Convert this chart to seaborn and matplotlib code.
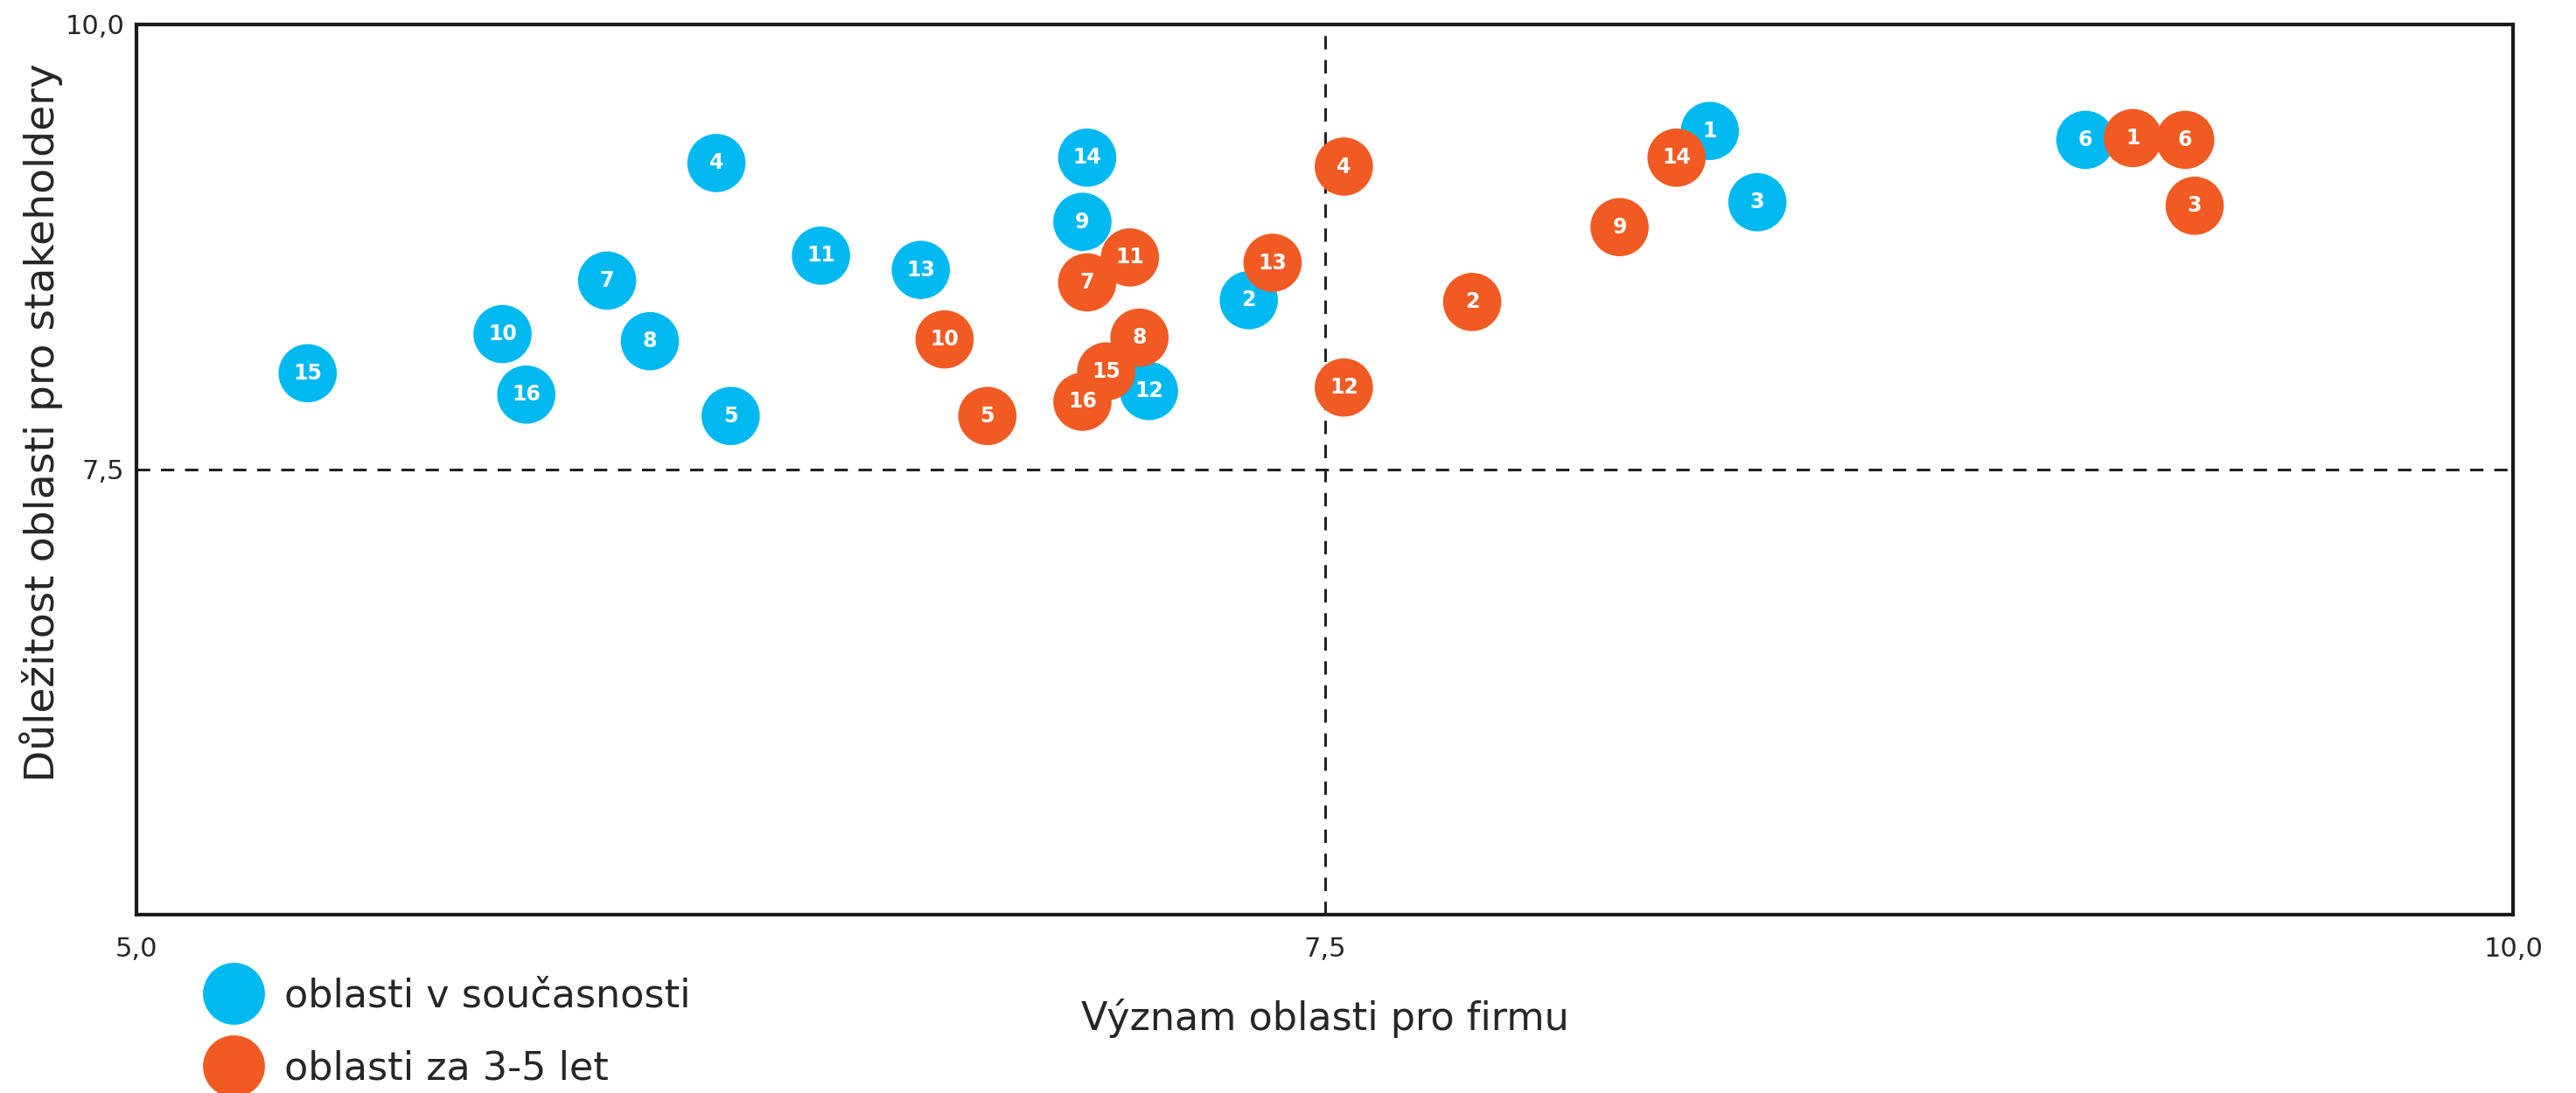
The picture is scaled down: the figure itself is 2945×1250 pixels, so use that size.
import matplotlib
matplotlib.use("Agg")
import matplotlib.pyplot as plt
from matplotlib.lines import Line2D
import pandas as pd
import seaborn as sns

# oblasti 1..16 - current state vs. 3-5 years
labels = [str(i) for i in range(1, 17)]
x_now = [8.31, 7.34, 8.41, 6.22, 6.25, 9.10, 5.99, 6.08, 6.99, 5.77, 6.44, 7.13, 6.65, 7.00, 5.36, 5.82]
y_now = [9.40, 8.45, 9.00, 9.22, 7.80, 9.35, 8.56, 8.22, 8.89, 8.26, 8.70, 7.94, 8.62, 9.25, 8.04, 7.92]
x_future = [9.20, 7.81, 9.33, 7.54, 6.79, 9.31, 7.00, 7.11, 8.12, 6.70, 7.09, 7.54, 7.39, 8.24, 7.04, 6.99]
y_future = [9.36, 8.44, 8.98, 9.20, 7.80, 9.35, 8.55, 8.24, 8.86, 8.23, 8.69, 7.96, 8.66, 9.25, 8.05, 7.88]

groups = ["oblasti v současnosti", "oblasti za 3-5 let"]
colors = ["#00B9F1", "#F15A22"]
x_ticks = [5.0, 7.5, 10.0]
y_ticks = [7.5, 10.0]

df = pd.DataFrame({
    "x": x_now + x_future,
    "y": y_now + y_future,
    "label": labels + labels,
    "group": [groups[0]] * len(x_now) + [groups[1]] * len(x_future),
})

sns.set_style("white")
fig = plt.figure(figsize=(29.45, 12.5), dpi=100)
ax = fig.add_axes([0.053, 0.163, 0.9226, 0.815])

sns.scatterplot(data=df, x="x", y="y", hue="group", palette=colors, s=2300,
                edgecolor="none", linewidth=0, legend=False, ax=ax, zorder=3)

for _, row in df.iterrows():
    ax.text(row["x"], row["y"], row["label"], color="white", fontsize=17,
            fontweight="bold", ha="center", va="center", zorder=4)

ax.axvline(7.5, color="#222222", linestyle=(0, (5, 4)), linewidth=2.2, zorder=1)
ax.axhline(7.5, color="#222222", linestyle=(0, (5, 4)), linewidth=2.2, zorder=1)

ax.set_xlim(5, 10)
ax.set_ylim(5, 10)
ax.set_xticks(x_ticks)
ax.set_xticklabels([f"{t:.1f}".replace(".", ",") for t in x_ticks])
ax.set_yticks(y_ticks)
ax.set_yticklabels([f"{t:.1f}".replace(".", ",") for t in y_ticks])
ax.tick_params(length=0, labelsize=22, pad=18)
ax.tick_params(axis="y", pad=10)

for sp in ax.spines.values():
    sp.set_color("#1a1a1a")
    sp.set_linewidth(3)

ax.set_xlabel("Význam oblasti pro firmu", fontsize=32, labelpad=30)
ax.set_ylabel("Důležitost oblasti pro stakeholdery", fontsize=34)
ax.yaxis.set_label_coords(-0.031, 0.553)

handles = [Line2D([0], [0], marker="o", linestyle="none", markersize=51,
                  markerfacecolor=c, markeredgecolor="none") for c in colors]
fig.legend(handles, groups, loc="upper left", bbox_to_anchor=(0.0757, 0.106),
           frameon=False, fontsize=32, handlelength=2, handletextpad=0.3,
           labelspacing=0.9, borderpad=0, borderaxespad=0)

fig.savefig("out.png", dpi=100)
